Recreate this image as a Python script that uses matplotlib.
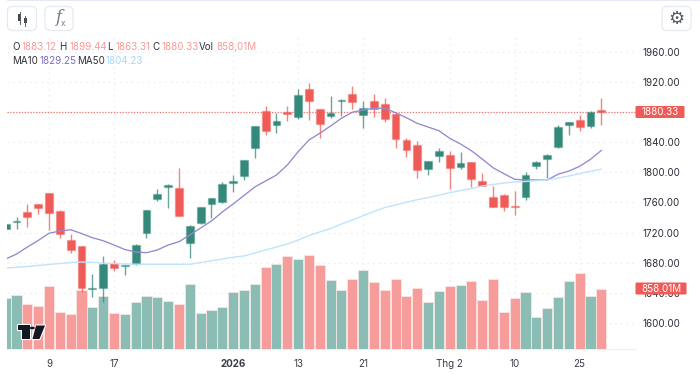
import matplotlib
matplotlib.use('Agg')
import matplotlib.pyplot as plt
from matplotlib.patches import FancyBboxPatch, Polygon, Circle, Rectangle

plt.rcParams['font.family'] = ['Inter', 'DejaVu Sans']

opens = [1725.2, 1734.5, 1748, 1758, 1772, 1749, 1710, 1702, 1644.5, 1647, 1679, 1675, 1678.5, 1719,
         1764.5, 1781, 1779, 1706, 1732.5, 1757.5, 1760, 1786.5, 1795, 1832, 1882, 1863, 1880.5, 1874,
         1910.5, 1884, 1875, 1895.5, 1904, 1876.5, 1895, 1890.5, 1877, 1843.5, 1837, 1804, 1822, 1823.5,
         1807, 1813.5, 1788.5, 1767.5, 1769.5, 1755.5, 1767.5, 1808, 1818, 1833.5, 1862.5, 1869, 1861.5, 1883.12]
highs = [1732, 1741, 1758, 1758.5, 1772.5, 1749.5, 1718, 1702.5, 1665, 1689, 1684, 1677, 1705, 1750.5,
         1777.5, 1784, 1805.5, 1730, 1754.5, 1766.5, 1787.5, 1796.5, 1817, 1862, 1888, 1879, 1888, 1911,
         1918.5, 1884.5, 1901.5, 1897.5, 1915, 1894.5, 1904, 1898.5, 1878.5, 1845.5, 1842, 1815, 1832, 1828,
         1827, 1814, 1799.5, 1782, 1771, 1775.5, 1800, 1815.5, 1824, 1863, 1867.5, 1876, 1882, 1899.44]
lows = [1725, 1725, 1727, 1745, 1723, 1713, 1693, 1641.5, 1635, 1628, 1669.5, 1663.5, 1676.5, 1712.5,
        1762, 1753, 1742, 1686, 1731.5, 1739, 1759, 1774.5, 1790, 1818.5, 1849.5, 1853, 1868.5, 1871.5,
        1869.5, 1845.5, 1872.5, 1875, 1884, 1859.5, 1874, 1867.5, 1833, 1821, 1792.5, 1796.5, 1814, 1777.5,
        1804.5, 1780, 1781.5, 1754, 1749, 1743.5, 1763.5, 1804.5, 1792.5, 1833, 1849.5, 1855.5, 1858.5, 1863.31]
closes = [1731.4, 1736, 1741, 1753, 1746, 1718.5, 1697.5, 1646.5, 1646, 1678, 1673, 1676.5, 1703.5, 1750.5,
          1771.5, 1783, 1742.5, 1729, 1754, 1766.5, 1784, 1788, 1816.5, 1861.5, 1855.5, 1868, 1877.5, 1903,
          1894.5, 1864.5, 1879.5, 1896.5, 1894, 1885.5, 1884, 1870.5, 1844, 1830, 1803, 1814.5, 1829, 1806,
          1812.5, 1791, 1782, 1754.5, 1754, 1753.5, 1796, 1814, 1823.5, 1860, 1867.5, 1860.5, 1880, 1880.33]
volumes = [721, 764, 636, 616, 896, 522, 502, 840, 602, 754, 508, 498, 665, 758, 736, 683, 636, 921, 517, 555,
           598, 815, 840, 929, 1171, 1214, 1323, 1285, 1333, 1195, 978, 835, 992, 1120, 949, 840, 996, 754, 864,
           665, 830, 892, 915, 972, 702, 996, 522, 721, 807, 451, 579, 736, 968, 1081, 754, 858.01]
ma10 = [1684.9, 1691.5, 1700.8, 1709.5, 1719.1, 1722.1, 1723.8, 1718.8, 1713.2, 1709.2, 1703.5, 1697.5, 1694.2,
        1693.3, 1696.9, 1703.5, 1707.9, 1716.8, 1726.1, 1735.4, 1747.4, 1758, 1769.3, 1780.6, 1788.6, 1796.5,
        1809.8, 1827.5, 1843, 1852, 1861.7, 1871.9, 1879.9, 1882.9, 1885.2, 1885.2, 1879.3, 1872.7, 1865.2,
        1860.3, 1855.4, 1845.3, 1837.7, 1828.8, 1817.8, 1806.2, 1798.3, 1790.8, 1789.9, 1789.9, 1789.9, 1797.5,
        1801.8, 1808.1, 1817.4, 1829.25]
ma50 = [1672.9, 1673.9, 1674.9, 1676.3, 1677.6, 1678.9, 1680.2, 1680.9, 1680.5, 1679.6, 1678.7, 1678.3, 1678,
        1677.9, 1677.9, 1677.9, 1677.9, 1677.9, 1680.2, 1682.6, 1684.9, 1687.3, 1688.9, 1692.9, 1696.9, 1700.8,
        1704.8, 1710.1, 1716.1, 1720.8, 1725.4, 1731.4, 1736.7, 1742.4, 1748, 1753.3, 1756.7, 1760.3, 1763.7,
        1766.6, 1769.7, 1773, 1775.9, 1778.6, 1781.9, 1783.9, 1785.9, 1787.2, 1787.9, 1789, 1789.9, 1792.5,
        1795.2, 1798.5, 1801.5, 1804.23]

price_ticks = [1960, 1920, 1840, 1800, 1760, 1720, 1680, 1640, 1600]
grid_ticks = [1960, 1920, 1880, 1840, 1800, 1760, 1720, 1680, 1640, 1600]
date_pos = [4, 10, 21, 27, 33, 41, 47, 53]
date_labels = ['9', '17', '2026', '13', '21', 'Thg 2', '10', '25']

RED = '#ef5b57'
GREEN = '#34897a'
RED_VOL = '#f69c9a'
GREEN_VOL = '#8bbdb5'
GRID = '#eef0f3'
TXT = '#2a2e39'
W, H = 700, 374
PRICE_MIN, PRICE_MAX = 1565.3, 1982.6
VOL_MAX = 4468  # volume (M) that would reach the top of the pane


def fx(x):
    return x / W


def fy(y):
    return 1 - y / H


fig = plt.figure(figsize=(7, 3.74), dpi=100)

# grid and labels at the back, volume in the middle, candles on top
ax = fig.add_axes([fx(7), fy(349), 629 / W, 314 / H])
ax.set_xlim(0.12, 58.2)
ax.set_ylim(PRICE_MIN, PRICE_MAX)
ax_vol = fig.add_axes([fx(7), fy(349), 629 / W, 314 / H], sharex=ax)
ax_vol.set_ylim(0, VOL_MAX)
ax_vol.patch.set_alpha(0)
ax_top = fig.add_axes([fx(7), fy(349), 629 / W, 314 / H], sharex=ax, sharey=ax)
ax_top.patch.set_alpha(0)

idx = list(range(len(closes)))
is_up = [c >= o for o, c in zip(opens, closes)]
vol_colors = [GREEN_VOL if u else RED_VOL for u in is_up]
ax_vol.bar(idx, volumes, width=0.93, color=vol_colors, edgecolor='#fbe9e8', linewidth=0.5)
ax_vol.axis('off')
ax_top.axis('off')

for s in ['top', 'left', 'right']:
    ax.spines[s].set_visible(False)
ax.spines['bottom'].set_color('#eceef2')
ax.spines['bottom'].set_linewidth(0.8)

ax.set_yticks(grid_ticks)
ax.grid(True, color=GRID, linestyle=(0, (1.5, 3)), linewidth=0.9)
ax.set_axisbelow(True)

# candles
for i in idx:
    col = GREEN if is_up[i] else RED
    ax_top.vlines(i, lows[i], highs[i], color=col, linewidth=1.0, alpha=0.75, zorder=3)
    ax_top.bar(i, abs(closes[i] - opens[i]), bottom=min(opens[i], closes[i]), width=0.72, color=col,
               edgecolor=col + '55', linewidth=1.0, zorder=4)

ax_top.plot(idx, ma10, color='#9489cf', linewidth=0.95, zorder=5)
ax_top.plot(idx, ma50, color='#bfe4fb', linewidth=1.0, zorder=5)
ax_top.axhline(closes[-1], color=RED, linestyle=(0, (1, 1.3)), linewidth=0.9, alpha=0.85, zorder=2)

ax.yaxis.tick_right()
ax.set_yticklabels(['%.2f' % p if p in price_ticks else '' for p in grid_ticks], fontsize=7.1, color=TXT)
ax.tick_params(axis='y', length=0, pad=5)
ax.set_xticks(date_pos)
ax.set_xticklabels(date_labels, fontsize=7.1, color='#3a3e48')
ax.get_xticklabels()[2].set_fontweight('bold')
ax.tick_params(axis='x', length=0, pad=7)

# price tags on the right
for y, label, wd in [(112, '%.2f' % closes[-1], 49), (288.5, '%.2fM' % volumes[-1], 51)]:
    fig.add_artist(FancyBboxPatch((fx(635.5), fy(y + 6)), wd / W, 12 / H, boxstyle='round,pad=0,rounding_size=0.002',
                                  transform=fig.transFigure, facecolor=RED, edgecolor='none', zorder=6))
    fig.text(fx(635.5 + wd / 2), fy(y), label, color='white', fontsize=7.1, ha='center', va='center', zorder=7)

# legend rows, built piece by piece
dark = '#2f323a'
sal = '#f79a98'
row1 = [(12, 'O', dark), (22, '1883.12', sal), (59, 'H', dark), (69, '1899.44', sal), (107, 'L', dark),
        (115, '1863.31', sal), (152, 'C', dark), (162, '1880.33', sal), (199, 'Vol', dark), (216, '858,01M', sal)]
row2 = [(12, 'MA10', dark), (40, '1829.25', '#7d6dc0'), (77, 'MA50', dark), (105, '1804.23', '#a6d8fb')]
for x, s, c in row1:
    fig.text(fx(x), fy(47), s, color=c, fontsize=7.0, va='center')
for x, s, c in row2:
    fig.text(fx(x), fy(61), s, color=c, fontsize=7.0, va='center')

# toolbar strip and buttons
fig.add_artist(Rectangle((fx(7), fy(1.2)), 1 - fx(7), 1.2 / H, transform=fig.transFigure, facecolor='#e4e9f3',
                         edgecolor='none'))
for x0, x1 in [(7.5, 36.5), (45, 73), (662, 691)]:
    fig.add_artist(FancyBboxPatch((fx(x0), fy(30.5)), (x1 - x0) / W, 24 / H,
                                  boxstyle='round,pad=0,rounding_size=0.007', transform=fig.transFigure,
                                  facecolor='white', edgecolor='#e6e9f0', linewidth=0.9, mutation_aspect=1.87))

# candle icon
icon = '#5a5f6a'
for x, y0, y1, b0, b1 in [(19.5, 12, 24, 14, 21), (25, 16, 26, 18, 23)]:
    fig.add_artist(plt.Line2D([fx(x), fx(x)], [fy(y0), fy(y1)], color=icon, linewidth=0.7))
    fig.add_artist(Rectangle((fx(x - 1.5), fy(b1)), 3 / W, (b1 - b0) / H, transform=fig.transFigure,
                             facecolor='#3f444e', edgecolor='none'))
fig.text(fx(58), fy(18), 'f', family='DejaVu Serif', style='italic', fontsize=12, color='#777b85', ha='center',
         va='center')
fig.text(fx(62.5), fy(23.5), 'x', fontsize=6, color='#777b85', ha='center', va='center')
fig.text(fx(676.5), fy(18.5), '\u2699', family='DejaVu Sans', fontsize=13, color='#555a68', ha='center', va='center')

# tradingview mark
logo_parts = [
    [(17.5, 325), (29.5, 325), (29.5, 339), (22, 339), (22, 330), (17.5, 330)],
    [(36, 325.5), (45, 325.5), (39.5, 339), (32.5, 339)],
]
for pts in logo_parts:
    poly = [(fx(a), fy(b)) for a, b in pts]
    fig.add_artist(Polygon(poly, closed=True, transform=fig.transFigure, facecolor='#131722', edgecolor='white',
                           linewidth=1.6, joinstyle='round', zorder=6))
    fig.add_artist(Polygon(poly, closed=True, transform=fig.transFigure, facecolor='#131722', edgecolor='none',
                           zorder=7))
fig.add_artist(Circle((fx(32.3), fy(328)), 2.5 / W, transform=fig.transFigure, facecolor='#131722', edgecolor='none',
                      zorder=7))

fig.savefig('out.png', dpi=100)
